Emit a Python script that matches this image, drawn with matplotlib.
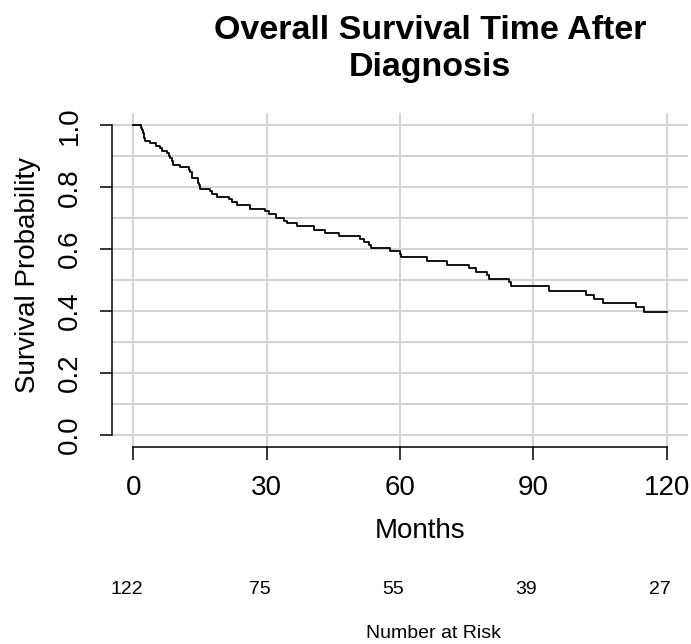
import matplotlib
matplotlib.use("Agg")
import matplotlib.pyplot as plt
import matplotlib.transforms as mtransforms

plt.rcParams['font.family'] = ['Liberation Sans', 'DejaVu Sans']

# Kaplan-Meier estimate (months, survival after the drop)
event_times = [1.8, 2.0, 2.2, 2.4, 2.5, 2.6, 3.8, 5.2, 6.0, 6.4,
               7.5, 8.0, 8.2, 8.6, 8.9, 10.5, 12.6, 12.8, 13.1, 13.3,
               14.5, 14.7, 14.9, 17.3, 17.6, 18.8, 21.5, 22.3, 23.4, 26.3,
               29.7, 30.5, 32.0, 33.8, 34.6, 36.9, 40.6, 43.2, 46.2, 51.1,
               51.8, 53.0, 53.5, 57.7, 60.0, 60.3, 66.1, 70.6, 75.5, 77.2,
               79.6, 80.0, 84.5, 84.9, 93.5, 101.8, 103.6, 105.7, 113.0, 115.0]
survival = [0.992, 0.984, 0.975, 0.967, 0.959, 0.951, 0.943, 0.934, 0.926, 0.918,
            0.910, 0.902, 0.893, 0.885, 0.872, 0.865, 0.857, 0.849, 0.840, 0.831,
            0.815, 0.806, 0.795, 0.787, 0.779, 0.770, 0.762, 0.753, 0.741, 0.730,
            0.722, 0.712, 0.702, 0.692, 0.683, 0.673, 0.663, 0.653, 0.643, 0.633,
            0.624, 0.614, 0.604, 0.594, 0.584, 0.573, 0.562, 0.550, 0.539, 0.527,
            0.515, 0.504, 0.492, 0.480, 0.466, 0.453, 0.439, 0.425, 0.412, 0.398]
follow_up_end = 120

risk_times = [0, 30, 60, 90, 120]
risk_counts = [122, 75, 55, 39, 27]

x_ticks = [0, 30, 60, 90, 120]
y_ticks = [0.0, 0.2, 0.4, 0.6, 0.8, 1.0]
y_grid = [i / 10 for i in range(11)]

W, H = 691, 644
fig = plt.figure(figsize=(W / 100, H / 100), dpi=100)
ax = fig.add_axes([112 / W, 1 - 447 / H, 576 / W, 334 / H])

grid_col = '#d3d3d3'
for g in y_grid:
    ax.axhline(g, color=grid_col, lw=1.5, zorder=0)
for g in x_ticks:
    ax.axvline(g, color=grid_col, lw=1.5, zorder=0)

xs = [0] + event_times + [follow_up_end]
ys = [1.0] + survival + [survival[-1]]
ax.step(xs, ys, where='post', color='black', lw=1.3, zorder=3)

ax.set_xlim(-4.8, 124.8)
ax.set_ylim(-0.04, 1.04)

for s in ['top', 'right']:
    ax.spines[s].set_visible(False)
ax.spines['left'].set_bounds(0, 1)
ax.spines['bottom'].set_bounds(0, 120)
ax.spines['left'].set_linewidth(1.1)
ax.spines['bottom'].set_linewidth(1.1)

ax.set_xticks(x_ticks)
ax.set_xticklabels([str(t) for t in x_ticks])
ax.set_yticks(y_ticks)
ax.set_yticklabels([f"{t:.1f}" for t in y_ticks])
ax.tick_params(axis='both', length=9, width=1.1, labelsize=20)
ax.tick_params(axis='x', pad=11)
ax.tick_params(axis='y', pad=12)
for lab in ax.get_yticklabels():
    lab.set_rotation(90)
    lab.set_va('center')

fig.text(430 / W, 1 - 49 / H, "Overall Survival Time After\nDiagnosis",
         ha='center', va='center', fontsize=24.5, fontweight='bold', linespacing=1.22)
fig.text(28 / W, 1 - 275 / H, "Survival Probability", rotation=90,
         ha='center', va='center', fontsize=20)
fig.text(420 / W, 1 - 531 / H, "Months", ha='center', va='center', fontsize=20)

# number at risk row below the axis
shift = mtransforms.offset_copy(ax.transData, fig=fig, x=-7, y=0, units='dots')
row_tr = mtransforms.blended_transform_factory(shift, fig.transFigure)
for t, n in zip(risk_times, risk_counts):
    ax.text(t, 1 - 590 / H, str(n), transform=row_tr, ha='center', va='center',
            fontsize=14, clip_on=False)
fig.text(434 / W, 1 - 633 / H, "Number at Risk", ha='center', va='center', fontsize=14)

fig.savefig("out.png", dpi=100)
